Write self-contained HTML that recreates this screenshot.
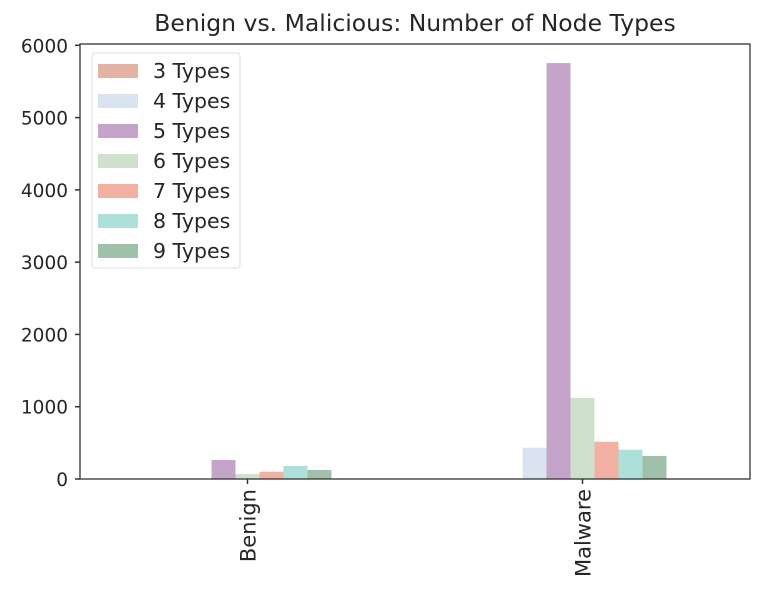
<!DOCTYPE html>
<html><head><meta charset="utf-8"><style>
body{margin:0;background:#fff;font-family:"Liberation Sans","DejaVu Sans",sans-serif;}
svg text{font-family:"DejaVu Sans","Liberation Sans",sans-serif;fill:#262626;}
</style></head><body>
<svg id="chart" width="776" height="592"></svg>
<script>
const categories = ["Benign", "Malware"];
const seriesNames = ["3 Types","4 Types","5 Types","6 Types","7 Types","8 Types","9 Types"];
const benignValues = [0, 0, 263, 70, 100, 180, 125];
const malwareValues = [0, 433, 5754, 1120, 516, 405, 318];
const yTicks = [0, 1000, 2000, 3000, 4000, 5000, 6000];
const colors = ["#e2b3a5","#dae4f1","#c4a5c9","#cfe0cc","#f2b0a3","#aee0db","#9fc0a9"];

const NS = "http://www.w3.org/2000/svg";
const svg = document.getElementById("chart");
const L=80, R=750, T=44, B=479;
const yMax = 6000 * (B-T)/(B-45.3);
function y(v){ return B - v/yMax*(B-T); }
function x(i){ return L + (i+0.5)/2*(R-L); }
const barW = 24;
function mk(tag, attrs){ const e=document.createElementNS(NS,tag); for(const k in attrs) e.setAttribute(k,attrs[k]); svg.appendChild(e); return e; }

const title = mk("text",{x:415,y:31,"text-anchor":"middle","font-size":"23.5"});
title.textContent = "Benign vs. Malicious: Number of Node Types";



const allVals = [benignValues, malwareValues];
categories.forEach((c, ci) => {
  allVals[ci].forEach((v, si) => {
    const bx = x(ci) - 3.5*barW + si*barW;
    const r = mk("rect",{x:bx,y:y(v),width:barW,height:B-y(v),fill:colors[si]});
    
    
  });
  const t = mk("line",{x1:x(ci),x2:x(ci),y1:B,y2:B+5,stroke:"#333","stroke-width":1.5});
  
  
  const lbl = mk("text",{x:0,y:0,"text-anchor":"end","font-size":"21",transform:`translate(${x(ci)+8},${B+10}) rotate(-90)`});
  lbl.textContent = c;
  
  
});

yTicks.forEach(v => {
  const t = mk("line",{x1:L-5,x2:L,y1:y(v),y2:y(v),stroke:"#333","stroke-width":1.5});
  
  
  const lbl = mk("text",{x:L-12,y:y(v)+7,"text-anchor":"end","font-size":"18.5"});
  lbl.textContent = v;
  
  
});

const frame = mk("rect",{x:L,y:T,width:R-L,height:B-T,fill:"none",stroke:"#333","stroke-width":1.3});



const lg = mk("rect",{x:92,y:53,width:148,height:215,rx:3,fill:"#fff",stroke:"#ddd","stroke-width":1});


seriesNames.forEach((n, i) => {
  const yy = 71 + i*30;
  const s = mk("rect",{x:98,y:yy-7,width:40,height:14,fill:colors[i]});
  
  
  const t = mk("text",{x:153,y:yy+7,"font-size":"20.5"});
  t.textContent = n;
  
  
});
</script>
</body></html>
